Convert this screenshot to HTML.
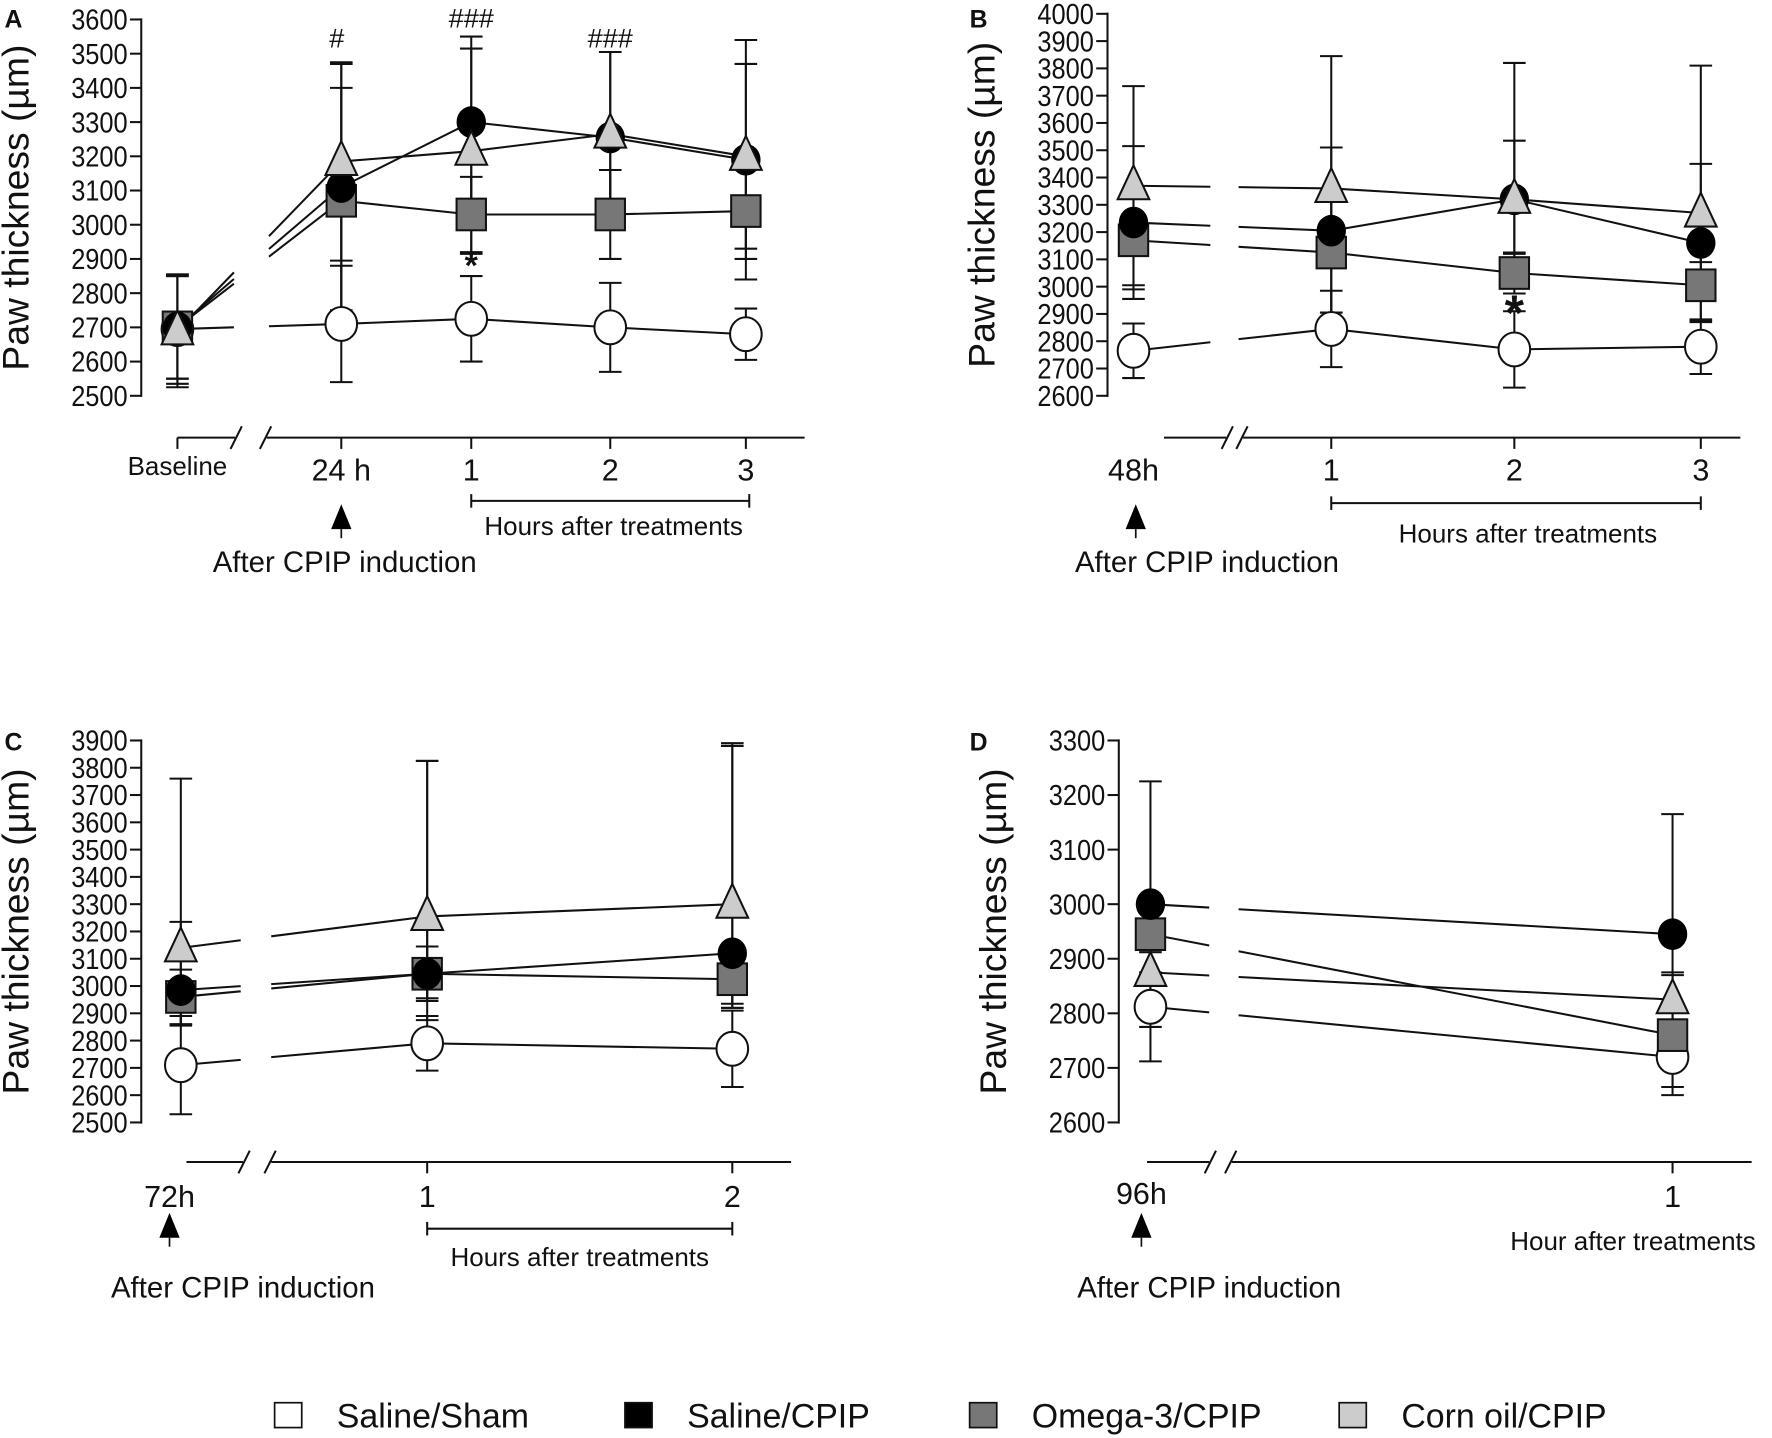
<!DOCTYPE html>
<html><head><meta charset="utf-8"><style>html,body{margin:0;padding:0;background:#fff}svg{display:block}text{font-family:"Liberation Sans",Arial,sans-serif;fill:#111}</style></head>
<body>
<svg id="s" width="1772" height="1438" viewBox="0 0 1568 1272" xmlns="http://www.w3.org/2000/svg"></svg>
<script>
const S=document.getElementById('s');let h='';
const L=(x1,y1,x2,y2,w=1.8)=>h+=`<line x1="${x1}" y1="${y1}" x2="${x2}" y2="${y2}" stroke="#111" stroke-width="${w}"/>`;
const T=(x,y,t,sz,anc='middle',extra='')=>h+=`<text x="${x}" y="${y}" font-size="${sz}" text-anchor="${anc}" ${extra}>${t}</text>`;
function marker(k,x,y){
 if(k=='sham')h+=`<ellipse cx="${x}" cy="${y}" rx="14" ry="15" fill="#fff" stroke="#111" stroke-width="1.8"/>`;
 if(k=='black')h+=`<ellipse cx="${x}" cy="${y}" rx="13" ry="14" fill="#000"/>`;
 if(k=='omega')h+=`<rect x="${x-13}" y="${y-14}" width="26" height="28" fill="#777" stroke="#111" stroke-width="1.8"/>`;
 if(k=='corn')h+=`<polygon points="${x},${y-18} ${x-14},${y+12} ${x+14},${y+12}" fill="#ccc" stroke="#111" stroke-width="1.8"/>`;
}
function panel(p){
 const {ax,y0,y1,vmin,vmax,step,xs,data,sd,dn,gap,label}=p;
 const Y=v=>y1-(v-vmin)/(vmax-vmin)*(y1-y0);
 L(ax,y0-1,ax,y1+1);
 for(let v=vmin;v<=vmax+1e-6;v+=step){const y=Y(v);L(ax-10,y,ax,y);T(ax-12,y+9,v,25,'end','textLength="50" lengthAdjust="spacingAndGlyphs"');}
 T(label[0],label[1],label[2],22,'start','font-weight="bold"');
 h+=`<text x="0" y="0" font-size="33" text-anchor="middle" transform="translate(${ax-100},${(y0+y1)/2}) rotate(-90)">Paw thickness (µm)</text>`;
 const order=['sham','omega','black','corn'];
 for(const k of order){data[k].forEach((v,i)=>{const x=xs[i],e=sd[k][i],d=(dn&&dn[k])?dn[k][i]:e;L(x,Y(v-d),x,Y(v+e));L(x-10,Y(v-d),x+10,Y(v-d));L(x-10,Y(v+e),x+10,Y(v+e));});}
 for(const k of order){const d=data[k];for(let i=0;i<d.length-1;i++){const xa=xs[i],xb=xs[i+1],ya=Y(d[i]),yb=Y(d[i+1]);
  if(i==0&&gap){const f=t=>ya+(yb-ya)*(t-xa)/(xb-xa);L(xa,ya,gap[0],f(gap[0]));L(gap[1],f(gap[1]),xb,yb);}else L(xa,ya,xb,yb);}}
 for(const k of order)data[k].forEach((v,i)=>marker(k,xs[i],Y(v)));
}
function xaxis(p){const {y,s1,s2,e,ticks,tl,br,arrow,ac,hours}=p;
 L(s1[0],y,s1[1],y);L(s2,y,e,y);
 L(s1[1]-4,y+10,s1[1]+6,y-10);L(s2-6,y+10,s2+4,y-10);
 ticks.forEach(t=>L(t,y,t,y+10));
 tl.forEach(t=>T(t[0],t[1],t[2],t[3]||27));
 if(br){L(br[0],br[2],br[1],br[2]);L(br[0],br[2]-6,br[0],br[2]+6);L(br[1],br[2]-6,br[1],br[2]+6);}
 if(hours)T(hours[0],hours[1],hours[2],23);
 const [axx,ay]=arrow;h+=`<polygon points="${axx},${ay} ${axx-9},${ay+22} ${axx+9},${ay+22}" fill="#000"/>`;L(axx,ay+22,axx,ay+30,1.5);
 T(ac[0],ac[1],'After CPIP induction',26);
}
panel({ax:125,y0:17,y1:350,vmin:2500,vmax:3600,step:100,xs:[157,302,417,540,660],gap:[207,238],label:[4,24,'A'],
 data:{sham:[2695,2710,2725,2700,2680],black:[2700,3110,3300,3255,3190],omega:[2700,3070,3030,3030,3040],corn:[2690,3185,3215,3265,3200]},
 sd:{sham:[160,170,125,130,75],black:[150,360,250,250,350],omega:[150,330,110,130,140],corn:[165,290,300,240,270]}});
xaxis({y:387,s1:[157,208],s2:236,e:712,ticks:[157,302,417,540,660],tl:[[157,420,'Baseline',23],[302,425,'24 h'],[417,425,'1'],[540,425,'2'],[660,425,'3']],br:[417,663,443],hours:[543,473,'Hours after treatments'],arrow:[302,446],ac:[305,506]});
T(298,42,'#',24);T(417,24,'###',24);T(540,42,'###',24);T(417,245,'*',30,'middle','font-weight="bold"');
panel({ax:980,y0:12,y1:350,vmin:2600,vmax:4000,step:100,xs:[1003,1178,1340,1505],gap:[1071,1096],label:[858,24,'B'],
 data:{sham:[2765,2845,2770,2780],black:[3235,3205,3320,3160],omega:[3170,3125,3050,3005],corn:[3370,3360,3320,3270]},
 sd:{sham:[100,140,140,100],black:[280,640,500,650],omega:[180,220,75,130],corn:[365,150,215,180]},
 dn:{sham:[100,140,140,100],black:[280,300,200,290],omega:[180,220,75,130],corn:[365,150,215,180]}});
xaxis({y:387,s1:[1030,1085],s2:1100,e:1540,ticks:[1178,1340,1505],tl:[[1003,425,'48h'],[1178,425,'1'],[1340,425,'2'],[1505,425,'3']],br:[1178,1505,445],hours:[1352,480,'Hours after treatments'],arrow:[1005,446],ac:[1068,506]});
T(1340,292,'*',44,'middle','font-weight="bold"');
panel({ax:125,y0:655,y1:993,vmin:2500,vmax:3900,step:100,xs:[160,378,648],gap:[213,240],label:[4,664,'C'],
 data:{sham:[2710,2790,2770],black:[2985,3045,3120],omega:[2960,3045,3025],corn:[3140,3255,3300]},
 sd:{sham:[180,100,140],black:[250,780,760],omega:[100,100,90],corn:[620,570,590]},
 dn:{sham:[180,100,140],black:[130,170,200],omega:[100,100,90],corn:[280,300,380]}});
xaxis({y:1028,s1:[165,215],s2:240,e:700,ticks:[378,648],tl:[[150,1068,'72h'],[378,1068,'1'],[648,1068,'2']],br:[378,648,1087],hours:[513,1120,'Hours after treatments'],arrow:[150,1073],ac:[215,1148]});
panel({ax:990,y0:655,y1:993,vmin:2600,vmax:3300,step:100,xs:[1018,1480],gap:[1070,1096],label:[858,664,'D'],
 data:{sham:[2812,2720],black:[3000,2945],omega:[2945,2760],corn:[2875,2825]},
 sd:{sham:[100,55],black:[225,220],omega:[70,110],corn:[70,50]}});
xaxis({y:1028,s1:[1015,1070],s2:1090,e:1550,ticks:[1480],tl:[[1010,1065,'96h'],[1480,1068,'1']],br:null,hours:[1445,1106,'Hour after treatments'],arrow:[1010,1073],ac:[1070,1148]});
[[243,'#fff','Saline/Sham'],[553,'#000','Saline/CPIP'],[858,'#777','Omega-3/CPIP'],[1185,'#ccc','Corn oil/CPIP']].forEach(([x,c,t])=>{
 h+=`<rect x="${x}" y="${1241}" width="24" height="22" fill="${c}" stroke="#111" stroke-width="1.5"/>`;T(x+55,1263,t,30,'start');});
S.innerHTML=h;
</script>
</body></html>
